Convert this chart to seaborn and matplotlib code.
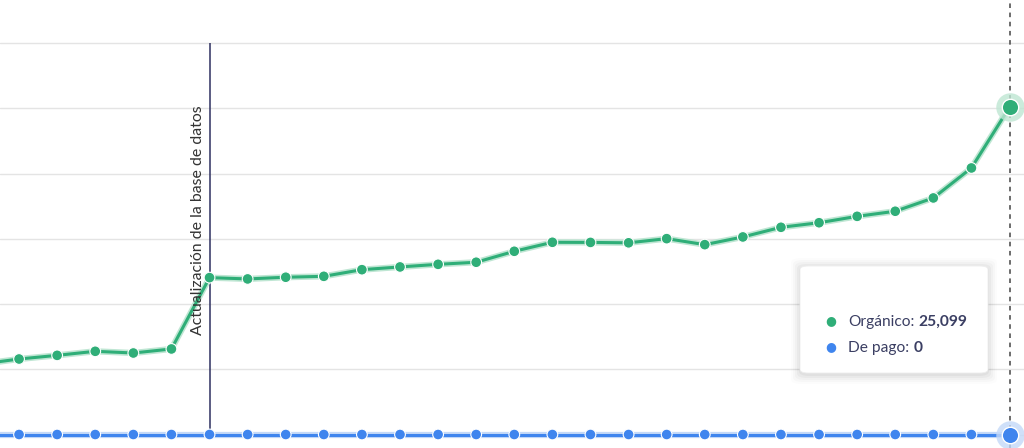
import numpy as np
import pandas as pd
import matplotlib
matplotlib.use("Agg")
import matplotlib.pyplot as plt
import matplotlib.patheffects as pe
from matplotlib.patches import FancyBboxPatch
import seaborn as sns

# datos (tráfico orgánico vs. de pago por periodo)
periodos = list(range(-1, 27))
organico = [5400, 5790, 6070, 6380, 6250, 6560, 12030, 11930, 12060, 12130,
            12640, 12850, 13050, 13210, 14050, 14740, 14730, 14700, 15020, 14560,
            15150, 15890, 16240, 16730, 17120, 18140, 20440, 25099]
de_pago = [0, 0, 0, 0, 0, 0, 0, 0, 0, 0, 0, 0, 0, 0,
           0, 0, 0, 0, 0, 0, 0, 0, 0, 0, 0, 0, 0, 0]
y_ticks = [0, 5000, 10000, 15000, 20000, 25000, 30000]
x_ticks = [1, 5, 9, 13, 17, 21, 25]
evento_x = 5
evento_txt = "Actualización de la base de datos"

VERDE = "#2fae78"
VERDE_CLARO = "#bfe6d3"
AZUL = "#3f85ee"
AZUL_CLARO = "#c4d9f8"
TEXTO = "#3b3f63"

df = pd.DataFrame({
    "periodo": periodos * 2,
    "valor": organico + de_pago,
    "serie": ["Orgánico"] * len(periodos) + ["De pago"] * len(periodos),
})

sns.set_style("white")
plt.rcParams["font.family"] = ["Lato", "DejaVu Sans"]

fig = plt.figure(figsize=(10.24, 4.48), dpi=100)
ax = fig.add_axes([0, 0, 1, 1])

paleta = {"Orgánico": VERDE, "De pago": AZUL}
claros = {"Orgánico": VERDE_CLARO, "De pago": AZUL_CLARO}

sns.lineplot(data=df, x="periodo", y="valor", hue="serie", palette=paleta,
             linewidth=2.2, legend=False, ax=ax, zorder=3)
for linea, serie in zip(ax.lines, ["Orgánico", "De pago"]):
    linea.set_path_effects([pe.Stroke(linewidth=4.5, foreground=claros[serie]), pe.Normal()])

sns.scatterplot(data=df, x="periodo", y="valor", hue="serie", palette=paleta,
                s=60, edgecolor="white", linewidth=0.8, legend=False, ax=ax, zorder=4)

# punto resaltado (último periodo)
ult = periodos[-1]
for val, serie in [(organico[-1], "Orgánico"), (de_pago[-1], "De pago")]:
    ax.scatter([ult], [val], s=420, color=claros[serie], alpha=0.8, zorder=5, linewidth=0)
    ax.scatter([ult], [val], s=140, color=paleta[serie], edgecolor="white",
               linewidth=1.0, zorder=6)

# línea de evento
ax.vlines(evento_x, 0, y_ticks[-1], color="#2e3060", linewidth=1.1, zorder=2)
ax.annotate(evento_txt, xy=(evento_x, 7600), xytext=(-3, 0),
            textcoords="offset points", rotation=90, ha="right", va="bottom",
            fontsize=11.4, color="#333333", zorder=7)

# línea discontinua del cursor
ax.axvline(ult, color="#444444", linewidth=1.1, linestyle=(0, (3, 3)), zorder=2)

ax.set_xlim(-0.5, 26.38)
ax.set_ylim(-1035, 33320)
ax.set_yticks(y_ticks)
ax.set_xticks(x_ticks)
ax.grid(axis="y", color="#e4e4e4", linewidth=1)
ax.tick_params(axis="x", direction="in", length=7, color="#d6d6d6", width=1,
               labelbottom=False)
ax.tick_params(axis="y", length=0, labelleft=False)
ax.set_xlabel("")
ax.set_ylabel("")
for s in ax.spines.values():
    s.set_visible(False)

# tooltip
W, H = 1024, 448
def fx(px):
    return px / W
def fy(py):
    return 1 - py / H

for i, a in enumerate([0.035, 0.03, 0.025, 0.018, 0.012]):
    g = (i + 1) * 2
    fig.patches.append(FancyBboxPatch((fx(800 - g + 1), fy(374 + g)), fx(188 + 2 * g - 2), (107 + 2 * g - 1) / H,
                                      boxstyle="round,pad=0,rounding_size=0.01",
                                      transform=fig.transFigure, facecolor="black",
                                      edgecolor="none", alpha=a, zorder=8))
fig.patches.append(FancyBboxPatch((fx(800), fy(373)), fx(188), 107 / H,
                                  boxstyle="round,pad=0,rounding_size=0.008",
                                  transform=fig.transFigure, facecolor="white",
                                  edgecolor="#eeeeee", linewidth=0.6, zorder=9))

renderer = fig.canvas.get_renderer()
filas = [("Orgánico:", f"{organico[-1]:,}", VERDE, 325.5),
         ("De pago:", f"{de_pago[-1]:,}", AZUL, 351.5)]
for etiqueta, valor, color, py in filas:
    fig.text(fx(831), fy(py - 4.5), "●", color=color, fontsize=9, ha="center",
             va="center", zorder=10, family="DejaVu Sans")
    t1 = fig.text(fx(848), fy(py), etiqueta, color=TEXTO, fontsize=11.2,
                  ha="left", va="baseline", zorder=10)
    ancho = t1.get_window_extent(renderer=renderer).width
    fig.text(fx(848 + ancho + 4), fy(py), valor, color=TEXTO, fontsize=11.2,
             fontweight="bold", ha="left", va="baseline", zorder=10)

fig.savefig("out.png", dpi=100)
